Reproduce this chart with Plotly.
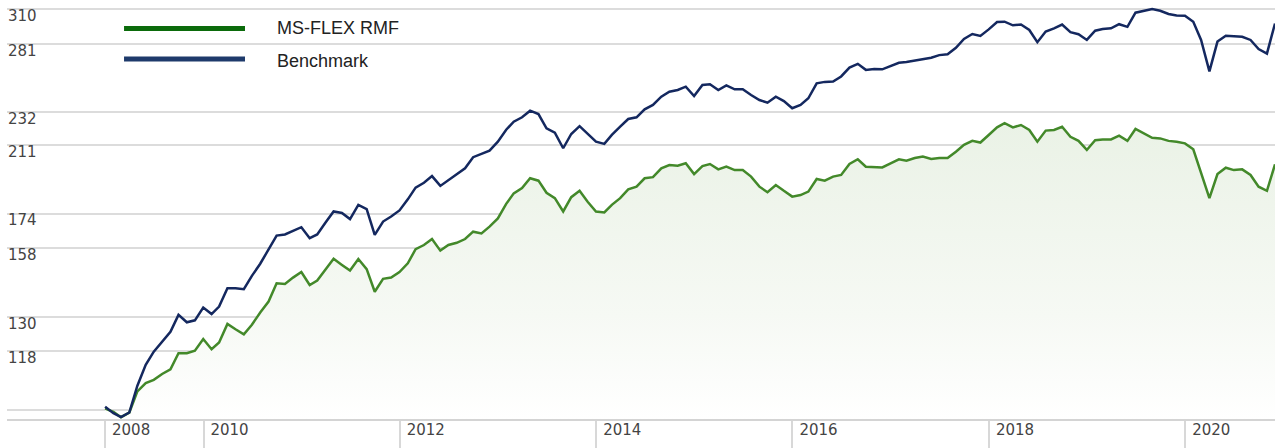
import math
import pandas as pd
import plotly.graph_objects as go

# ---- data -------------------------------------------------------------
start_date = "2008-12-31"
n_points = 144
dates = pd.date_range(start_date, periods=n_points, freq="ME")

fund_name = "MS-FLEX RMF"
bench_name = "Benchmark"

fund_values = [
    100.4, 99.5, 98.0, 99.3, 105.4, 107.9, 108.9, 110.7, 112.2, 117.4, 117.4, 118.2,
    122.2, 118.7, 121.0, 127.5, 125.6, 123.8, 127.2, 131.7, 135.8, 143.0, 142.7, 145.3,
    147.6, 142.3, 144.1, 148.5, 153.2, 150.6, 148.2, 153.1, 148.8, 139.6, 144.8, 145.3,
    147.6, 151.3, 157.4, 159.3, 162.0, 156.8, 159.3, 160.3, 162.0, 165.4, 164.6, 167.8,
    171.7, 178.9, 184.3, 187.1, 192.3, 191.0, 184.6, 181.8, 175.1, 182.3, 185.6, 180.0,
    175.1, 174.6, 178.4, 181.8, 186.4, 187.8, 192.3, 192.9, 197.8, 199.6, 199.2, 200.6,
    194.6, 199.0, 200.2, 197.2, 198.7, 196.8, 196.8, 193.2, 187.8, 184.9, 188.7, 185.6,
    182.6, 183.4, 185.2, 191.9, 191.0, 193.2, 194.1, 200.2, 202.9, 198.7, 198.3, 198.3,
    200.6, 202.9, 202.1, 203.6, 204.5, 203.1, 203.6, 203.6, 207.3, 211.3, 213.7, 212.7,
    217.3, 222.0, 224.6, 222.0, 223.5, 220.4, 213.2, 220.0, 220.4, 222.4, 216.2, 213.7,
    208.3, 214.1, 214.6, 214.6, 216.9, 213.7, 221.0, 218.3, 215.6, 215.2, 213.7, 213.2,
    212.2, 208.7, 195.0, 181.8, 194.6, 198.1, 196.8, 197.2, 194.1, 187.8, 185.6, 200.0,
]

bench_values = [
    100.9, 99.1, 98.0, 99.3, 107.1, 113.6, 117.9, 121.3, 124.7, 130.8, 128.1, 128.8,
    133.5, 131.1, 133.9, 141.0, 141.0, 140.6, 146.0, 151.1, 157.1, 163.6, 164.1, 165.8,
    167.5, 162.4, 164.1, 169.7, 175.1, 174.4, 171.4, 178.4, 176.3, 163.9, 170.2, 172.6,
    175.6, 181.2, 187.3, 189.9, 193.5, 188.2, 191.4, 194.6, 197.8, 204.1, 205.8, 207.9,
    213.2, 220.5, 225.6, 228.4, 232.7, 230.5, 221.4, 218.7, 209.3, 217.9, 222.8, 217.9,
    213.2, 211.9, 217.3, 222.4, 227.3, 228.4, 233.6, 236.5, 242.1, 245.5, 246.7, 249.0,
    242.5, 250.2, 250.7, 246.7, 249.9, 247.2, 247.2, 243.2, 239.8, 238.0, 242.1, 239.1,
    234.3, 236.5, 241.0, 251.4, 252.4, 252.6, 256.3, 262.8, 265.6, 261.1, 261.7, 261.5,
    263.7, 266.4, 266.9, 268.1, 269.2, 270.2, 272.2, 272.9, 277.9, 284.9, 288.9, 287.3,
    292.7, 298.8, 299.1, 296.1, 296.7, 292.2, 282.3, 290.9, 293.6, 296.7, 290.4, 288.7,
    284.1, 291.6, 293.0, 293.6, 297.0, 294.8, 306.8, 308.3, 310.0, 308.5, 305.7, 304.5,
    304.2, 299.1, 284.1, 260.0, 282.8, 287.5, 287.3, 286.7, 284.1, 276.9, 273.4, 297.6,
]

y_tick_values = [100, 118, 130, 158, 174, 211, 232, 281, 310]
y_tick_labels = ["", "118", "130", "158", "174", "211", "232", "281", "310"]
y_range = [97.5, 318.0]
base_value = 100

x_tick_values = ["2008-12-31", "2010-01-01", "2012-01-01", "2014-01-01",
                 "2016-01-01", "2018-01-01", "2020-01-01"]
x_tick_labels = ["2008", "2010", "2012", "2014", "2016", "2018", "2020"]
x_range = ["2008-01-01", "2020-11-30"]

# ---- styles -----------------------------------------------------------
FUND_COLOR = "#43892a"
BENCH_COLOR = "#14285f"
FUND_LEGEND = "#0b6b0b"
BENCH_LEGEND = "#1e3a6b"
GRID = "#dcdcdc"
TICK_FONT = dict(family="DejaVu Sans, Verdana, sans-serif", size=15, color="#444444")

fig = go.Figure()
fig.add_trace(go.Scatter(
    x=dates, y=fund_values, name=fund_name, mode="lines",
    line=dict(color=FUND_COLOR, width=2.5),
    fill="tozeroy",
    fillgradient=dict(type="vertical", start=y_range[0], stop=225,
                      colorscale=[[0, "rgba(255,255,255,1)"],
                                  [0.35, "rgba(246,249,244,1)"],
                                  [1, "rgba(234,242,230,1)"]]),
    showlegend=False,
))
fig.add_trace(go.Scatter(
    x=dates, y=bench_values, name=bench_name, mode="lines",
    line=dict(color=BENCH_COLOR, width=2.5),
    showlegend=False,
))

# baseline at 100
fig.add_shape(type="line", xref="paper", yref="y", x0=0, x1=1,
              y0=base_value, y1=base_value, line=dict(color="#c4c4c4", width=2),
              layer="below")

# legend drawn as wide swatches with labels
legend_items = [(fund_name, FUND_LEGEND, 0.932, 0.932),
                (bench_name, BENCH_LEGEND, 0.859, 0.8544)]
for label, color, yl, yt in legend_items:
    fig.add_shape(type="line", xref="paper", yref="paper",
                  x0=0.0923, x1=0.1877, y0=yl, y1=yl,
                  line=dict(color=color, width=5))
    fig.add_annotation(xref="paper", yref="paper", x=0.2113, y=yt, text=label,
                       showarrow=False, xanchor="left", yanchor="middle",
                       font=dict(family="Liberation Sans, Arial, sans-serif",
                                 size=18, color="#222222"))

fig.update_layout(
    width=1282, height=448,
    margin=dict(l=7, r=7, t=0, b=29, pad=0),
    paper_bgcolor="white", plot_bgcolor="white",
    showlegend=False,
    xaxis=dict(
        type="date", range=x_range,
        tickmode="array", tickvals=x_tick_values, ticktext=x_tick_labels,
        ticks="outside", ticklen=29, tickwidth=1.5, tickcolor="#d8d8d8",
        showgrid=False, showline=True, linecolor="#d4d4d4", linewidth=2,
        tickfont=TICK_FONT, ticklabelshift=26, ticklabelstandoff=-33,
        zeroline=False,
    ),
    yaxis=dict(
        type="log", range=[math.log10(y_range[0]), math.log10(y_range[1])],
        tickmode="array", tickvals=y_tick_values, ticktext=y_tick_labels,
        ticklabelposition="inside bottom", ticks="",
        ticklabelshift=-4, ticklabelstandoff=-2,
        showgrid=True, gridcolor=GRID, gridwidth=1.5,
        showline=False, zeroline=False, tickfont=TICK_FONT,
    ),
)

fig.write_html("out.html", config={"displayModeBar": False},
               post_script="document.body.style.margin='0';")
